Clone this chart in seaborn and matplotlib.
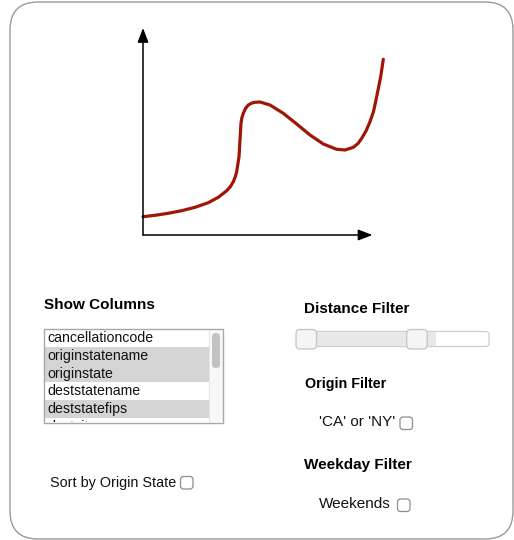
import matplotlib
matplotlib.use("Agg")
import matplotlib.pyplot as plt
import seaborn as sns
from matplotlib.patches import FancyBboxPatch, Rectangle, ArrowStyle
from matplotlib.transforms import Bbox, TransformedBbox

# curve (chart units = pixels from the axes origin)
curve_x = [0, 12, 25.3, 38.7, 52, 65.3, 75.3, 83.7, 87.5, 90.3, 92.2, 93.7, 96,
           97, 98, 98.8, 100.3, 102.5, 105.3, 108.5, 112, 117, 127, 140.3, 153.7,
           167, 180.3, 193.7, 202, 210.3, 215, 218.7, 223, 227, 230.5, 233,
           237.7, 240.3]
curve_y = [18.3, 19.7, 21.7, 24.3, 27.7, 32.3, 37.7, 44.3, 48.5, 53.3, 58, 63.3,
           78.3, 95, 111.7, 117, 121.7, 126.5, 130, 131.8, 132.7, 133, 130, 121.7,
           111, 100, 91, 85.7, 85, 87.7, 91.5, 96.7, 104, 113.3, 123.5, 135,
           158.3, 175.7]

# column list box
columns = ["cancellationcode", "originstatename", "originstate",
           "deststatename", "deststatefips", "destcityname"]
selected = [False, True, True, False, True, False]

# distance slider
dist_min, dist_max = 0, 100
dist_low, dist_high = 0, 64

sns.set_theme(style="white")
plt.rcParams['font.family'] = ['Liberation Sans', 'DejaVu Sans']

fig = plt.figure(figsize=(5.14, 5.40), dpi=100)
ax = fig.add_axes([0, 0, 1, 1])
ax.set_xlim(0, 514)
ax.set_ylim(540, 0)
ax.axis('off')

# outer panel
ax.add_patch(FancyBboxPatch((10, 2), 503, 537, boxstyle="round,pad=0,rounding_size=28",
                            fc='white', ec='#9a9a9a', lw=1, clip_on=False))

# chart
ch = fig.add_axes([143 / 514, 305 / 540, 250 / 514, 215 / 540])
ch.set_xlim(0, 250)
ch.set_ylim(0, 215)
ch.axis('off')
ch.patch.set_alpha(0)
head = ArrowStyle('-|>', head_length=0.86, head_width=0.33)
ch.annotate('', xy=(0, 207), xytext=(0, 0),
            arrowprops=dict(arrowstyle=head, color='black', lw=1.1,
                            mutation_scale=10, shrinkA=0, shrinkB=0))
ch.annotate('', xy=(229.5, 0), xytext=(0, 0),
            arrowprops=dict(arrowstyle=head, color='black', lw=1.1,
                            mutation_scale=10, shrinkA=0, shrinkB=0))
sns.lineplot(x=curve_x, y=curve_y, sort=False, estimator=None, color='#a01606',
             lw=2.3, ax=ch, solid_capstyle='round', solid_joinstyle='round', clip_on=False)

txt = '#111111'

# Show Columns
ax.text(44, 309, "Show Columns", fontsize=11, fontweight='bold', color='black')
clip = TransformedBbox(Bbox([[44.5, 329], [222.5, 422]]), ax.transData)
row_h = 17.8
for i, (name, sel) in enumerate(zip(columns, selected)):
    top = 329 + i * row_h
    if sel:
        r = Rectangle((45, top), 164, row_h, fc='#d4d4d4', ec='none')
        ax.add_patch(r)
        r.set_clip_box(clip)
    t = ax.text(47.5, top + 13, name, fontsize=10.2, color=txt)
    t.set_clip_on(True)
    t.set_clip_box(clip)
# scrollbar
ax.add_patch(Rectangle((209, 329), 13.5, 93, fc='#f8f8f8', ec='none'))
ax.plot([209, 209], [329, 422], color='#e6e6e6', lw=0.8)
ax.add_patch(FancyBboxPatch((212, 333), 8, 35, boxstyle="round,pad=0,rounding_size=4",
                            fc='#c2c2c2', ec='none'))
ax.add_patch(Rectangle((44, 328.5), 179, 94, fc='none', ec='#a8a8a8', lw=1, zorder=5))

# Sort by Origin State
ax.text(50.5, 486.5, "Sort by Origin State", fontsize=10.4, color=txt)


def checkbox(x, y):
    ax.add_patch(FancyBboxPatch((x, y), 12.5, 12.5, boxstyle="round,pad=0,rounding_size=3",
                                fc='white', ec='#8e8e8e', lw=0.9))


checkbox(180.5, 476.5)

# Distance Filter
ax.text(304, 313, "Distance Filter", fontsize=11, fontweight='bold', color='black')
x0, x1 = 306, 479
to_px = lambda v: x0 + (v - dist_min) / (dist_max - dist_min) * (x1 - x0)
ax.add_patch(FancyBboxPatch((297, 331.5), 192, 15, boxstyle="round,pad=0,rounding_size=3",
                            fc='white', ec='#cfcfcf', lw=0.9))
ax.add_patch(Rectangle((to_px(dist_low), 332.2), to_px(dist_high) + 19 - to_px(dist_low), 13.6,
                       fc='#e8e8e8', ec='none'))
for v in (dist_low, dist_high):
    cx = to_px(v)
    ax.add_patch(FancyBboxPatch((cx - 10, 329.5), 20.5, 19.5, boxstyle="round,pad=0,rounding_size=4",
                                fc='#f5f5f5', ec='#c4c4c4', lw=0.9))

# Origin Filter
ax.text(305, 388.3, "Origin Filter", fontsize=10.3, fontweight='bold', color='black')
ax.text(319, 426, "'CA' or 'NY'", fontsize=11, color=txt)
checkbox(400, 417)

# Weekday Filter
ax.text(304, 469.3, "Weekday Filter", fontsize=11, fontweight='bold', color='black')
ax.text(319, 507.7, "Weekends", fontsize=11, color=txt)
checkbox(397.5, 499)

fig.savefig("out.png", dpi=100, facecolor='white')
